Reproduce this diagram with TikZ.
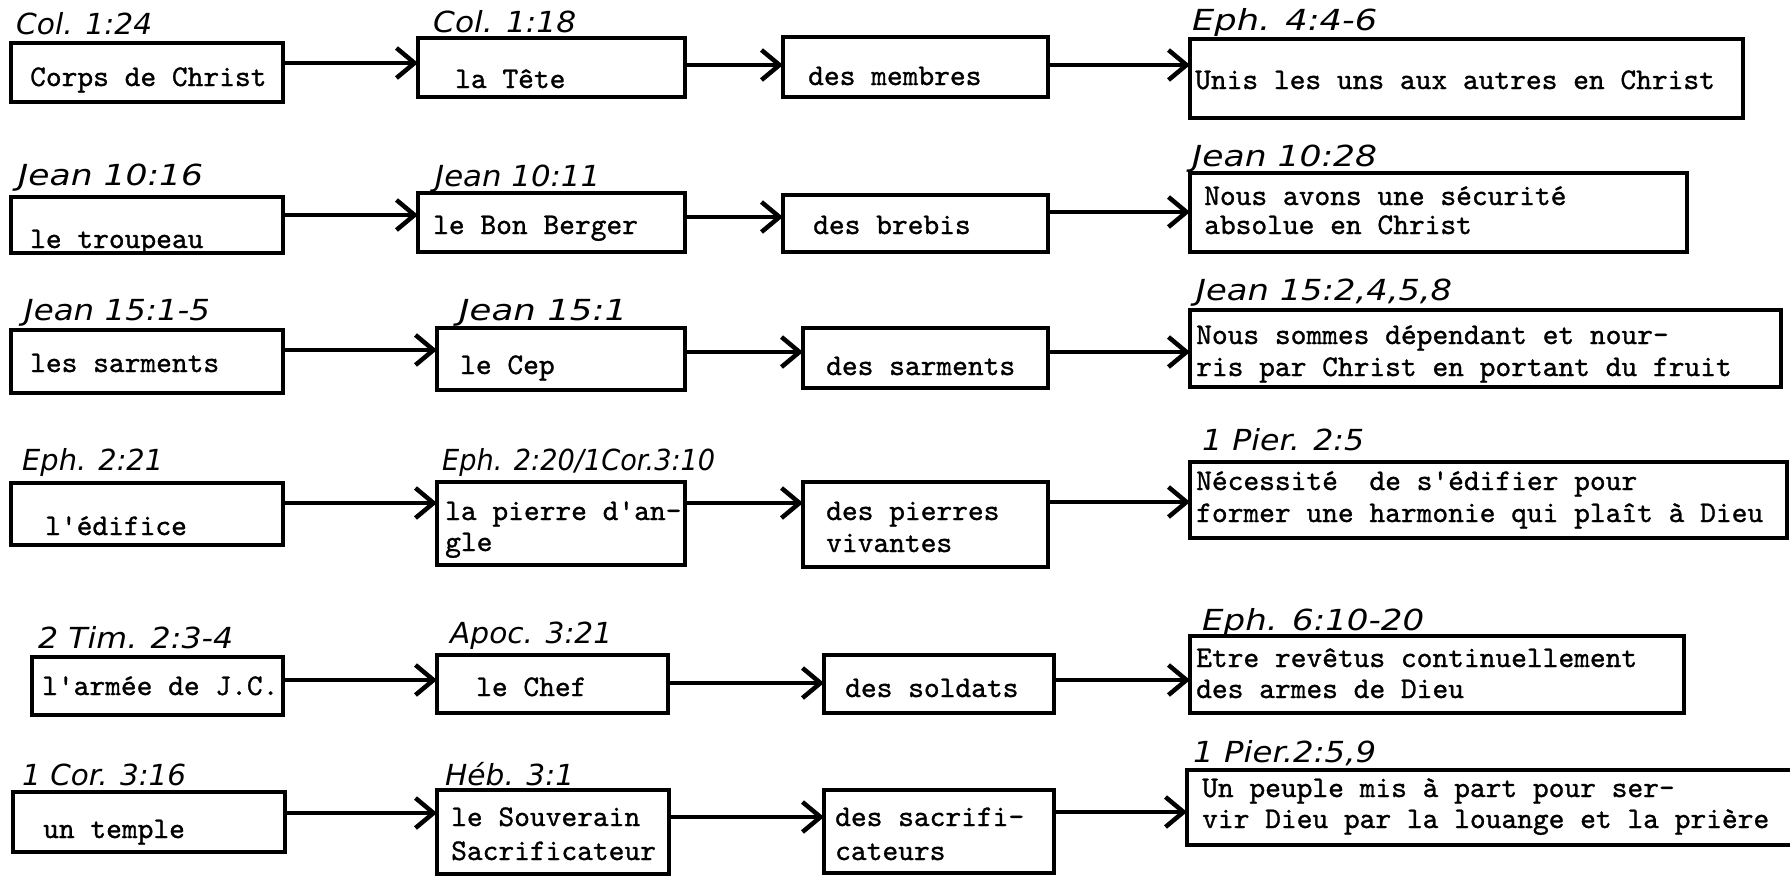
\documentclass[tikz,border=0pt]{standalone}
\usepackage{fontspec}
\usepackage{graphicx}
\usetikzlibrary{arrows.meta}
\newfontfamily\twfont[FakeBold=1]{lmmono10-regular.otf}
\newfontfamily\hwfont{DejaVu Sans}
\tikzset{
  box/.style={draw, line width=3.5pt, inner sep=0pt, outer sep=0pt, anchor=north west},
  tw/.style={inner sep=0pt, anchor=base west, font=\twfont\fontsize{30}{31}\selectfont},
  hw/.style={inner sep=0pt, anchor=base west, font=\hwfont\itshape\fontsize{29}{30}\selectfont},
  arr/.style={line width=4.5pt, -{Straight Barb[length=18pt,width=30pt]}}
}
\newcommand{\bx}[5]{\node[box, minimum width={#4-#2}, minimum height={#5-#3}] (#1) at (#2,#3) {};}
\newcommand{\hwl}[2]{\resizebox{#1pt}{\height}{#2}}
\begin{document}
\begin{tikzpicture}[x=1pt,y=-1pt]
\useasboundingbox (0,0) rectangle (1790,878);
\fill[white] (0,0) rectangle (1790,878);
% ---------- boxes ----------
\bx{A1}{11}{43}{283}{102}
\bx{A2}{418}{38}{685}{97}
\bx{A3}{783}{37}{1048}{97}
\bx{A4}{1190}{39}{1743}{118}
\bx{B1}{11}{197}{283}{253}
\bx{B2}{418}{193}{685}{252}
\bx{B3}{783}{195}{1048}{252}
\bx{B4}{1190}{173}{1687}{252}
\bx{C1}{11}{330}{283}{393}
\bx{C2}{437}{328}{685}{390}
\bx{C3}{803}{328}{1048}{388}
\bx{C4}{1190}{310}{1781}{387}
\bx{D1}{11}{483}{283}{545}
\bx{D2}{437}{482}{685}{565}
\bx{D3}{803}{482}{1048}{567}
\bx{D4}{1190}{462}{1787}{538}
\bx{E1}{32}{657}{283}{715}
\bx{E2}{437}{655}{668}{713}
\bx{E3}{824}{655}{1054}{713}
\bx{E4}{1190}{636}{1684}{713}
\bx{F1}{13}{792}{285}{852}
\bx{F2}{437}{790}{669}{874}
\bx{F3}{824}{790}{1054}{873}
\bx{F4}{1187}{770}{1800}{845}
% ---------- typed texts ----------
\node[tw] (tA1) at (30,86) {Corps de Christ};
\node[tw] (tA2) at (455,88) {la Tête};
\node[tw] (tA3) at (808,85) {des membres};
\node[tw] (tA4) at (1195,89) {Unis les uns aux autres en Christ};
\node[tw] (tB1) at (30,248) {le troupeau};
\node[tw] (tB2) at (433,234) {le Bon Berger};
\node[tw] (tB3) at (813,234) {des brebis};
\node[tw] (tB4a) at (1204,205) {Nous avons une sécurité};
\node[tw] (tB4b) at (1204,234) {absolue en Christ};
\node[tw] (tC1) at (30,372) {les sarments};
\node[tw] (tC2) at (460,374) {le Cep};
\node[tw] (tC3) at (826,375) {des sarments};
\node[tw] (tC4a) at (1196,344) {Nous sommes dépendant et nour-};
\node[tw] (tC4b) at (1196,376) {ris par Christ en portant du fruit};
\node[tw] (tD1) at (45,535) {l'édifice};
\node[tw] (tD2a) at (445,520) {la pierre d'an-};
\node[tw] (tD2b) at (445,551) {gle};
\node[tw] (tD3a) at (826,520) {des pierres};
\node[tw] (tD3b) at (826,552) {vivantes};
\node[tw] (tD4a) at (1196,490) {Nécessité\ \ de s'édifier pour};
\node[tw] (tD4b) at (1196,522) {former une harmonie qui plaît à Dieu};
\node[tw] (tE1) at (42,695) {l'armée de J.C.};
\node[tw] (tE2) at (476,696) {le Chef};
\node[tw] (tE3) at (845,697) {des soldats};
\node[tw] (tE4a) at (1196,667) {Etre revêtus continuellement};
\node[tw] (tE4b) at (1196,698) {des armes de Dieu};
\node[tw] (tF1) at (43,838) {un temple};
\node[tw] (tF2a) at (451,826) {le Souverain};
\node[tw] (tF2b) at (451,860) {Sacrificateur};
\node[tw] (tF3a) at (835,826) {des sacrifi-};
\node[tw] (tF3b) at (835,860) {cateurs};
\node[tw] (tF4a) at (1202,797) {Un peuple mis à part pour ser-};
\node[tw] (tF4b) at (1202,828) {vir Dieu par la louange et la prière};
% ---------- handwritten references ----------
\node[hw] (rA1) at (16,34) {\hwl{136}{Col. 1:24}};
\node[hw] (rA2) at (433,32) {\hwl{143}{Col. 1:18}};
\node[hw] (rA4) at (1192,30) {\hwl{185}{Eph. 4:4-6}};
\node[hw] (rB1) at (18,185) {\hwl{185}{Jean 10:16}};
\node[hw] (rB2) at (435,186) {\hwl{165}{Jean 10:11}};
\node[hw] (rB4) at (1192,166) {\hwl{185}{Jean 10:28}};
\node[hw] (rC1) at (24,320) {\hwl{186}{Jean 15:1-5}};
\node[hw] (rC2) at (459,320) {\hwl{168}{Jean 15:1}};
\node[hw] (rC4) at (1196,300) {\hwl{256}{Jean 15:2,4,5,8}};
\node[hw] (rD1) at (22,470) {\hwl{141}{Eph. 2:21}};
\node[hw] (rD2) at (442,470) {\hwl{273}{Eph. 2:20/1Cor.3:10}};
\node[hw] (rD4) at (1202,450) {\hwl{162}{1 Pier. 2:5}};
\node[hw] (rE1) at (38,648) {\hwl{195}{2 Tim. 2:3-4}};
\node[hw] (rE2) at (450,643) {\hwl{162}{Apoc. 3:21}};
\node[hw] (rE4) at (1202,630) {\hwl{222}{Eph. 6:10-20}};
\node[hw] (rF1) at (22,785) {\hwl{164}{1 Cor. 3:16}};
\node[hw] (rF2) at (445,785) {\hwl{129}{Héb. 3:1}};
\node[hw] (rF4) at (1193,762) {\hwl{183}{1 Pier.2:5,9}};
% ---------- arrows ----------
\draw[arr] (A1.east |- 0,63) -- (A2.west |- 0,63);
\draw[arr] (A2.east |- 0,65) -- (A3.west |- 0,65);
\draw[arr] (A3.east |- 0,65) -- (A4.west |- 0,65);
\draw[arr] (B1.east |- 0,215) -- (B2.west |- 0,215);
\draw[arr] (B2.east |- 0,217) -- (B3.west |- 0,217);
\draw[arr] (B3.east |- 0,212) -- (B4.west |- 0,212);
\draw[arr] (C1.east |- 0,350) -- (C2.west |- 0,350);
\draw[arr] (C2.east |- 0,352) -- (C3.west |- 0,352);
\draw[arr] (C3.east |- 0,352) -- (C4.west |- 0,352);
\draw[arr] (D1.east |- 0,503) -- (D2.west |- 0,503);
\draw[arr] (D2.east |- 0,503) -- (D3.west |- 0,503);
\draw[arr] (D3.east |- 0,502) -- (D4.west |- 0,502);
\draw[arr] (E1.east |- 0,680) -- (E2.west |- 0,680);
\draw[arr] (E2.east |- 0,683) -- (E3.west |- 0,683);
\draw[arr] (E3.east |- 0,680) -- (E4.west |- 0,680);
\draw[arr] (F1.east |- 0,813) -- (F2.west |- 0,813);
\draw[arr] (F2.east |- 0,817) -- (F3.west |- 0,817);
\draw[arr] (F3.east |- 0,812) -- (F4.west |- 0,812);
\end{tikzpicture}
\end{document}
